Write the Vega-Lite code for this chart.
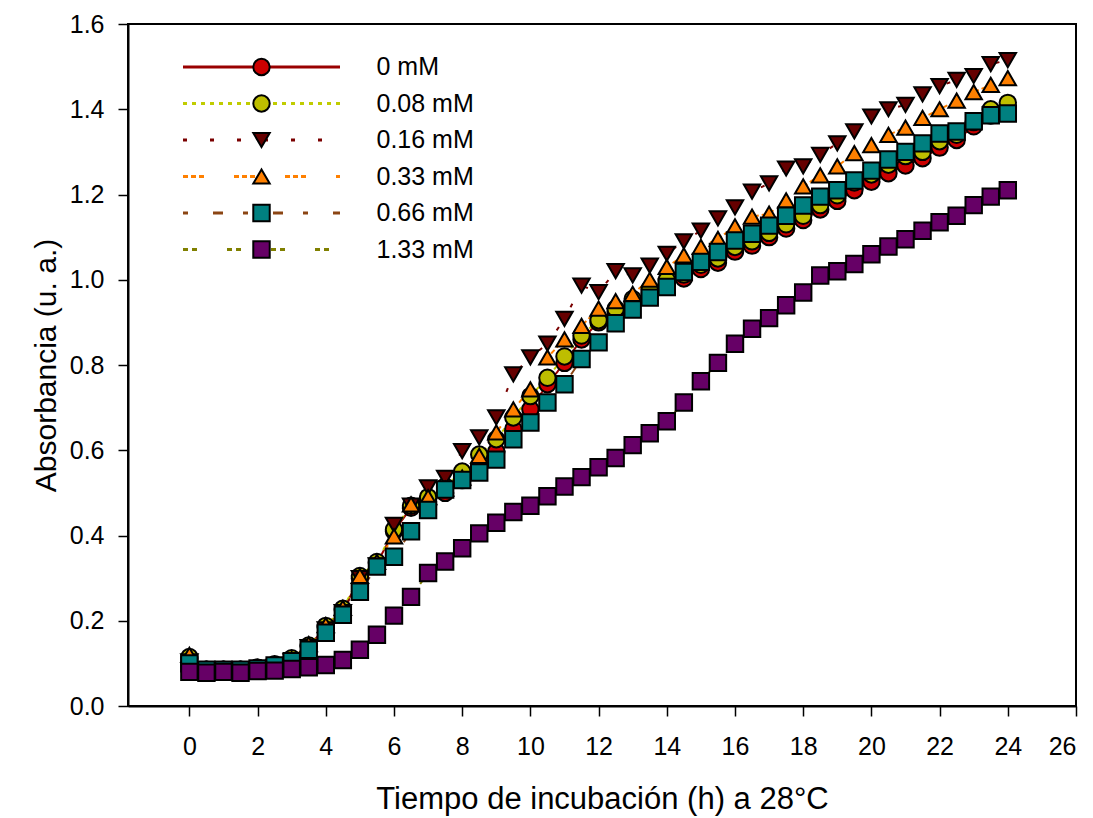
{
  "$schema": "https://vega.github.io/schema/vega-lite/v6.json",
  "width": 948,
  "height": 682,
  "autosize": {"type": "none"},
  "padding": {"left": 128, "top": 24, "right": 17, "bottom": 112},
  "background": "white",
  "config": {
    "font": "Liberation Sans",
    "view": {"stroke": "black", "strokeWidth": 2},
    "axis": {
      "grid": false,
      "domainColor": "black",
      "domainWidth": 2,
      "tickColor": "black",
      "tickWidth": 1.5,
      "tickSize": 10,
      "labelColor": "black",
      "titleColor": "black",
      "labelFont": "Liberation Sans",
      "titleFont": "Liberation Sans",
      "labelFontSize": 25,
      "titleFontWeight": "normal"
    }
  },
  "data": {
    "values": [
      {"s":"0 mM","t":0,"a":0.11},{"s":"0 mM","t":0.5,"a":0.085},{"s":"0 mM","t":1,"a":0.085},{"s":"0 mM","t":1.5,"a":0.085},{"s":"0 mM","t":2,"a":0.09},{"s":"0 mM","t":2.5,"a":0.095},{"s":"0 mM","t":3,"a":0.11},{"s":"0 mM","t":3.5,"a":0.14},{"s":"0 mM","t":4,"a":0.185},{"s":"0 mM","t":4.5,"a":0.225},{"s":"0 mM","t":5,"a":0.3},{"s":"0 mM","t":5.5,"a":0.335},{"s":"0 mM","t":6,"a":0.41},{"s":"0 mM","t":6.5,"a":0.465},{"s":"0 mM","t":7,"a":0.485},{"s":"0 mM","t":7.5,"a":0.5},{"s":"0 mM","t":8,"a":0.53},{"s":"0 mM","t":8.5,"a":0.56},{"s":"0 mM","t":9,"a":0.597},{"s":"0 mM","t":9.5,"a":0.65},{"s":"0 mM","t":10,"a":0.696},{"s":"0 mM","t":10.5,"a":0.755},{"s":"0 mM","t":11,"a":0.805},{"s":"0 mM","t":11.5,"a":0.86},{"s":"0 mM","t":12,"a":0.9},{"s":"0 mM","t":12.5,"a":0.925},{"s":"0 mM","t":13,"a":0.948},{"s":"0 mM","t":13.5,"a":0.968},{"s":"0 mM","t":14,"a":0.99},{"s":"0 mM","t":14.5,"a":1.003},{"s":"0 mM","t":15,"a":1.025},{"s":"0 mM","t":15.5,"a":1.04},{"s":"0 mM","t":16,"a":1.066},{"s":"0 mM","t":16.5,"a":1.08},{"s":"0 mM","t":17,"a":1.1},{"s":"0 mM","t":17.5,"a":1.12},{"s":"0 mM","t":18,"a":1.14},{"s":"0 mM","t":18.5,"a":1.165},{"s":"0 mM","t":19,"a":1.185},{"s":"0 mM","t":19.5,"a":1.21},{"s":"0 mM","t":20,"a":1.23},{"s":"0 mM","t":20.5,"a":1.25},{"s":"0 mM","t":21,"a":1.268},{"s":"0 mM","t":21.5,"a":1.285},{"s":"0 mM","t":22,"a":1.31},{"s":"0 mM","t":22.5,"a":1.328},{"s":"0 mM","t":23,"a":1.36},{"s":"0 mM","t":23.5,"a":1.385},{"s":"0 mM","t":24,"a":1.4},
      {"s":"0.08 mM","t":0,"a":0.115},{"s":"0.08 mM","t":0.5,"a":0.085},{"s":"0.08 mM","t":1,"a":0.085},{"s":"0.08 mM","t":1.5,"a":0.085},{"s":"0.08 mM","t":2,"a":0.09},{"s":"0.08 mM","t":2.5,"a":0.098},{"s":"0.08 mM","t":3,"a":0.112},{"s":"0.08 mM","t":3.5,"a":0.142},{"s":"0.08 mM","t":4,"a":0.188},{"s":"0.08 mM","t":4.5,"a":0.228},{"s":"0.08 mM","t":5,"a":0.305},{"s":"0.08 mM","t":5.5,"a":0.338},{"s":"0.08 mM","t":6,"a":0.414},{"s":"0.08 mM","t":6.5,"a":0.47},{"s":"0.08 mM","t":7,"a":0.49},{"s":"0.08 mM","t":7.5,"a":0.515},{"s":"0.08 mM","t":8,"a":0.55},{"s":"0.08 mM","t":8.5,"a":0.59},{"s":"0.08 mM","t":9,"a":0.626},{"s":"0.08 mM","t":9.5,"a":0.677},{"s":"0.08 mM","t":10,"a":0.727},{"s":"0.08 mM","t":10.5,"a":0.77},{"s":"0.08 mM","t":11,"a":0.82},{"s":"0.08 mM","t":11.5,"a":0.869},{"s":"0.08 mM","t":12,"a":0.905},{"s":"0.08 mM","t":12.5,"a":0.932},{"s":"0.08 mM","t":13,"a":0.955},{"s":"0.08 mM","t":13.5,"a":0.978},{"s":"0.08 mM","t":14,"a":1.0},{"s":"0.08 mM","t":14.5,"a":1.012},{"s":"0.08 mM","t":15,"a":1.035},{"s":"0.08 mM","t":15.5,"a":1.05},{"s":"0.08 mM","t":16,"a":1.077},{"s":"0.08 mM","t":16.5,"a":1.09},{"s":"0.08 mM","t":17,"a":1.11},{"s":"0.08 mM","t":17.5,"a":1.13},{"s":"0.08 mM","t":18,"a":1.15},{"s":"0.08 mM","t":18.5,"a":1.175},{"s":"0.08 mM","t":19,"a":1.198},{"s":"0.08 mM","t":19.5,"a":1.228},{"s":"0.08 mM","t":20,"a":1.247},{"s":"0.08 mM","t":20.5,"a":1.27},{"s":"0.08 mM","t":21,"a":1.29},{"s":"0.08 mM","t":21.5,"a":1.3},{"s":"0.08 mM","t":22,"a":1.325},{"s":"0.08 mM","t":22.5,"a":1.34},{"s":"0.08 mM","t":23,"a":1.37},{"s":"0.08 mM","t":23.5,"a":1.4},{"s":"0.08 mM","t":24,"a":1.415},
      {"s":"0.16 mM","t":0,"a":0.105},{"s":"0.16 mM","t":0.5,"a":0.078},{"s":"0.16 mM","t":1,"a":0.08},{"s":"0.16 mM","t":1.5,"a":0.08},{"s":"0.16 mM","t":2,"a":0.085},{"s":"0.16 mM","t":2.5,"a":0.092},{"s":"0.16 mM","t":3,"a":0.105},{"s":"0.16 mM","t":3.5,"a":0.138},{"s":"0.16 mM","t":4,"a":0.18},{"s":"0.16 mM","t":4.5,"a":0.22},{"s":"0.16 mM","t":5,"a":0.3},{"s":"0.16 mM","t":5.5,"a":0.33},{"s":"0.16 mM","t":6,"a":0.425},{"s":"0.16 mM","t":6.5,"a":0.47},{"s":"0.16 mM","t":7,"a":0.513},{"s":"0.16 mM","t":7.5,"a":0.535},{"s":"0.16 mM","t":8,"a":0.598},{"s":"0.16 mM","t":8.5,"a":0.63},{"s":"0.16 mM","t":9,"a":0.677},{"s":"0.16 mM","t":9.5,"a":0.778},{"s":"0.16 mM","t":10,"a":0.818},{"s":"0.16 mM","t":10.5,"a":0.85},{"s":"0.16 mM","t":11,"a":0.908},{"s":"0.16 mM","t":11.5,"a":0.986},{"s":"0.16 mM","t":12,"a":0.971},{"s":"0.16 mM","t":12.5,"a":1.02},{"s":"0.16 mM","t":13,"a":1.01},{"s":"0.16 mM","t":13.5,"a":1.033},{"s":"0.16 mM","t":14,"a":1.061},{"s":"0.16 mM","t":14.5,"a":1.09},{"s":"0.16 mM","t":15,"a":1.115},{"s":"0.16 mM","t":15.5,"a":1.144},{"s":"0.16 mM","t":16,"a":1.17},{"s":"0.16 mM","t":16.5,"a":1.207},{"s":"0.16 mM","t":17,"a":1.226},{"s":"0.16 mM","t":17.5,"a":1.261},{"s":"0.16 mM","t":18,"a":1.266},{"s":"0.16 mM","t":18.5,"a":1.293},{"s":"0.16 mM","t":19,"a":1.32},{"s":"0.16 mM","t":19.5,"a":1.348},{"s":"0.16 mM","t":20,"a":1.383},{"s":"0.16 mM","t":20.5,"a":1.4},{"s":"0.16 mM","t":21,"a":1.41},{"s":"0.16 mM","t":21.5,"a":1.435},{"s":"0.16 mM","t":22,"a":1.454},{"s":"0.16 mM","t":22.5,"a":1.469},{"s":"0.16 mM","t":23,"a":1.478},{"s":"0.16 mM","t":23.5,"a":1.506},{"s":"0.16 mM","t":24,"a":1.515},
      {"s":"0.33 mM","t":0,"a":0.12},{"s":"0.33 mM","t":0.5,"a":0.085},{"s":"0.33 mM","t":1,"a":0.085},{"s":"0.33 mM","t":1.5,"a":0.085},{"s":"0.33 mM","t":2,"a":0.09},{"s":"0.33 mM","t":2.5,"a":0.097},{"s":"0.33 mM","t":3,"a":0.11},{"s":"0.33 mM","t":3.5,"a":0.145},{"s":"0.33 mM","t":4,"a":0.19},{"s":"0.33 mM","t":4.5,"a":0.23},{"s":"0.33 mM","t":5,"a":0.305},{"s":"0.33 mM","t":5.5,"a":0.338},{"s":"0.33 mM","t":6,"a":0.398},{"s":"0.33 mM","t":6.5,"a":0.473},{"s":"0.33 mM","t":7,"a":0.49},{"s":"0.33 mM","t":7.5,"a":0.51},{"s":"0.33 mM","t":8,"a":0.536},{"s":"0.33 mM","t":8.5,"a":0.587},{"s":"0.33 mM","t":9,"a":0.642},{"s":"0.33 mM","t":9.5,"a":0.696},{"s":"0.33 mM","t":10,"a":0.743},{"s":"0.33 mM","t":10.5,"a":0.818},{"s":"0.33 mM","t":11,"a":0.86},{"s":"0.33 mM","t":11.5,"a":0.892},{"s":"0.33 mM","t":12,"a":0.932},{"s":"0.33 mM","t":12.5,"a":0.95},{"s":"0.33 mM","t":13,"a":0.967},{"s":"0.33 mM","t":13.5,"a":1.0},{"s":"0.33 mM","t":14,"a":1.03},{"s":"0.33 mM","t":14.5,"a":1.057},{"s":"0.33 mM","t":15,"a":1.077},{"s":"0.33 mM","t":15.5,"a":1.096},{"s":"0.33 mM","t":16,"a":1.125},{"s":"0.33 mM","t":16.5,"a":1.148},{"s":"0.33 mM","t":17,"a":1.155},{"s":"0.33 mM","t":17.5,"a":1.186},{"s":"0.33 mM","t":18,"a":1.219},{"s":"0.33 mM","t":18.5,"a":1.245},{"s":"0.33 mM","t":19,"a":1.266},{"s":"0.33 mM","t":19.5,"a":1.297},{"s":"0.33 mM","t":20,"a":1.316},{"s":"0.33 mM","t":20.5,"a":1.34},{"s":"0.33 mM","t":21,"a":1.357},{"s":"0.33 mM","t":21.5,"a":1.38},{"s":"0.33 mM","t":22,"a":1.4},{"s":"0.33 mM","t":22.5,"a":1.42},{"s":"0.33 mM","t":23,"a":1.44},{"s":"0.33 mM","t":23.5,"a":1.457},{"s":"0.33 mM","t":24,"a":1.473},
      {"s":"0.66 mM","t":0,"a":0.1},{"s":"0.66 mM","t":0.5,"a":0.085},{"s":"0.66 mM","t":1,"a":0.085},{"s":"0.66 mM","t":1.5,"a":0.085},{"s":"0.66 mM","t":2,"a":0.088},{"s":"0.66 mM","t":2.5,"a":0.095},{"s":"0.66 mM","t":3,"a":0.105},{"s":"0.66 mM","t":3.5,"a":0.132},{"s":"0.66 mM","t":4,"a":0.172},{"s":"0.66 mM","t":4.5,"a":0.214},{"s":"0.66 mM","t":5,"a":0.268},{"s":"0.66 mM","t":5.5,"a":0.327},{"s":"0.66 mM","t":6,"a":0.35},{"s":"0.66 mM","t":6.5,"a":0.41},{"s":"0.66 mM","t":7,"a":0.46},{"s":"0.66 mM","t":7.5,"a":0.508},{"s":"0.66 mM","t":8,"a":0.53},{"s":"0.66 mM","t":8.5,"a":0.548},{"s":"0.66 mM","t":9,"a":0.578},{"s":"0.66 mM","t":9.5,"a":0.626},{"s":"0.66 mM","t":10,"a":0.665},{"s":"0.66 mM","t":10.5,"a":0.712},{"s":"0.66 mM","t":11,"a":0.755},{"s":"0.66 mM","t":11.5,"a":0.814},{"s":"0.66 mM","t":12,"a":0.853},{"s":"0.66 mM","t":12.5,"a":0.898},{"s":"0.66 mM","t":13,"a":0.93},{"s":"0.66 mM","t":13.5,"a":0.958},{"s":"0.66 mM","t":14,"a":0.983},{"s":"0.66 mM","t":14.5,"a":1.018},{"s":"0.66 mM","t":15,"a":1.042},{"s":"0.66 mM","t":15.5,"a":1.065},{"s":"0.66 mM","t":16,"a":1.092},{"s":"0.66 mM","t":16.5,"a":1.108},{"s":"0.66 mM","t":17,"a":1.127},{"s":"0.66 mM","t":17.5,"a":1.15},{"s":"0.66 mM","t":18,"a":1.174},{"s":"0.66 mM","t":18.5,"a":1.195},{"s":"0.66 mM","t":19,"a":1.21},{"s":"0.66 mM","t":19.5,"a":1.233},{"s":"0.66 mM","t":20,"a":1.256},{"s":"0.66 mM","t":20.5,"a":1.282},{"s":"0.66 mM","t":21,"a":1.3},{"s":"0.66 mM","t":21.5,"a":1.32},{"s":"0.66 mM","t":22,"a":1.343},{"s":"0.66 mM","t":22.5,"a":1.348},{"s":"0.66 mM","t":23,"a":1.372},{"s":"0.66 mM","t":23.5,"a":1.386},{"s":"0.66 mM","t":24,"a":1.39},
      {"s":"1.33 mM","t":0,"a":0.08},{"s":"1.33 mM","t":0.5,"a":0.078},{"s":"1.33 mM","t":1,"a":0.08},{"s":"1.33 mM","t":1.5,"a":0.078},{"s":"1.33 mM","t":2,"a":0.082},{"s":"1.33 mM","t":2.5,"a":0.083},{"s":"1.33 mM","t":3,"a":0.087},{"s":"1.33 mM","t":3.5,"a":0.091},{"s":"1.33 mM","t":4,"a":0.096},{"s":"1.33 mM","t":4.5,"a":0.108},{"s":"1.33 mM","t":5,"a":0.132},{"s":"1.33 mM","t":5.5,"a":0.167},{"s":"1.33 mM","t":6,"a":0.212},{"s":"1.33 mM","t":6.5,"a":0.256},{"s":"1.33 mM","t":7,"a":0.312},{"s":"1.33 mM","t":7.5,"a":0.339},{"s":"1.33 mM","t":8,"a":0.37},{"s":"1.33 mM","t":8.5,"a":0.405},{"s":"1.33 mM","t":9,"a":0.43},{"s":"1.33 mM","t":9.5,"a":0.455},{"s":"1.33 mM","t":10,"a":0.47},{"s":"1.33 mM","t":10.5,"a":0.492},{"s":"1.33 mM","t":11,"a":0.515},{"s":"1.33 mM","t":11.5,"a":0.537},{"s":"1.33 mM","t":12,"a":0.56},{"s":"1.33 mM","t":12.5,"a":0.582},{"s":"1.33 mM","t":13,"a":0.612},{"s":"1.33 mM","t":13.5,"a":0.64},{"s":"1.33 mM","t":14,"a":0.668},{"s":"1.33 mM","t":14.5,"a":0.712},{"s":"1.33 mM","t":15,"a":0.762},{"s":"1.33 mM","t":15.5,"a":0.805},{"s":"1.33 mM","t":16,"a":0.85},{"s":"1.33 mM","t":16.5,"a":0.885},{"s":"1.33 mM","t":17,"a":0.91},{"s":"1.33 mM","t":17.5,"a":0.94},{"s":"1.33 mM","t":18,"a":0.97},{"s":"1.33 mM","t":18.5,"a":1.01},{"s":"1.33 mM","t":19,"a":1.02},{"s":"1.33 mM","t":19.5,"a":1.037},{"s":"1.33 mM","t":20,"a":1.06},{"s":"1.33 mM","t":20.5,"a":1.078},{"s":"1.33 mM","t":21,"a":1.095},{"s":"1.33 mM","t":21.5,"a":1.115},{"s":"1.33 mM","t":22,"a":1.135},{"s":"1.33 mM","t":22.5,"a":1.15},{"s":"1.33 mM","t":23,"a":1.175},{"s":"1.33 mM","t":23.5,"a":1.195},{"s":"1.33 mM","t":24,"a":1.21}
    ]
  },
  "encoding": {
    "x": {
      "field": "t",
      "type": "quantitative",
      "scale": {"domain": [-1.8, 26], "nice": false, "zero": false},
      "axis": {
        "title": "Tiempo de incubación (h) a 28°C",
        "titleFontSize": 31,
        "titlePadding": 25,
        "labelPadding": 18,
        "labelFontSize": 25,
        "values": [0, 2, 4, 6, 8, 10, 12, 14, 16, 18, 20, 22, 24, 26],
        "format": "d"
      }
    },
    "y": {
      "field": "a",
      "type": "quantitative",
      "scale": {"domain": [0, 1.6], "nice": false},
      "axis": {
        "title": "Absorbancia (u. a.)",
        "titleFontSize": 30,
        "titlePadding": 8,
        "labelPadding": 14,
        "labelFontSize": 25,
        "values": [0, 0.2, 0.4, 0.6, 0.8, 1.0, 1.2, 1.4, 1.6],
        "format": ".1f"
      }
    }
  },
  "layer": [
    {
      "mark": {"type": "line", "strokeWidth": 2},
      "encoding": {
        "stroke": {
          "field": "s",
          "type": "nominal",
          "scale": {
            "domain": ["0 mM", "0.08 mM", "0.16 mM", "0.33 mM", "0.66 mM", "1.33 mM"],
            "range": ["#990000", "#c0cc00", "#7a0000", "#ff8000", "#8b4513", "#808000"]
          },
          "legend": {
            "title": null,
            "orient": "none",
            "legendX": 53.5,
            "legendY": 31,
            "padding": 0,
            "symbolType": "stroke",
            "symbolSize": 24649,
            "symbolStrokeWidth": 3,
            "clipHeight": 24,
            "rowPadding": 11.5,
            "labelOffset": 35,
            "labelFontSize": 25,
            "labelFont": "Liberation Sans",
            "labelColor": "black"
          }
        },
        "strokeDash": {
          "field": "s",
          "type": "nominal",
          "scale": {
            "domain": ["0 mM", "0.08 mM", "0.16 mM", "0.33 mM", "0.66 mM", "1.33 mM"],
            "range": [[1, 0], [4, 5], [4, 23], [5, 3, 5, 3, 5, 30], [5, 25, 10, 20], [5, 4, 5, 30]]
          },
          "legend": {
            "title": null,
            "orient": "none",
            "legendX": 53.5,
            "legendY": 31,
            "padding": 0,
            "symbolType": "stroke",
            "symbolSize": 24649,
            "symbolStrokeWidth": 3,
            "clipHeight": 24,
            "rowPadding": 11.5,
            "labelOffset": 35,
            "labelFontSize": 25,
            "labelFont": "Liberation Sans",
            "labelColor": "black"
          }
        }
      }
    },
    {
      "mark": {"type": "point", "filled": true, "size": 270, "stroke": "black", "strokeWidth": 2, "opacity": 1},
      "encoding": {
        "fill": {
          "field": "s",
          "type": "nominal",
          "scale": {"range": ["#cc0000", "#bebe00", "#660000", "#ff8000", "#008080", "#660066"]},
          "legend": {
            "title": null,
            "orient": "none",
            "legendX": 121,
            "legendY": 31,
            "padding": 0,
            "symbolSize": 270,
            "symbolStrokeColor": "black",
            "symbolStrokeWidth": 2,
            "symbolOpacity": 1,
            "clipHeight": 24,
            "rowPadding": 11.5,
            "labelFontSize": 25,
            "labelOpacity": 0,
            "encode": {"symbols": {"update": {"stroke": {"value": "black"}, "strokeWidth": {"value": 2}, "opacity": {"value": 1}}}}
          }
        },
        "shape": {
          "field": "s",
          "type": "nominal",
          "scale": {"range": ["circle", "circle", "triangle-down", "triangle-up", "square", "square"]},
          "legend": {
            "title": null,
            "orient": "none",
            "legendX": 121,
            "legendY": 31,
            "padding": 0,
            "symbolSize": 270,
            "symbolStrokeColor": "black",
            "symbolStrokeWidth": 2,
            "symbolOpacity": 1,
            "clipHeight": 24,
            "rowPadding": 11.5,
            "labelFontSize": 25,
            "labelOpacity": 0,
            "encode": {"symbols": {"update": {"stroke": {"value": "black"}, "strokeWidth": {"value": 2}, "opacity": {"value": 1}}}}
          }
        }
      }
    }
  ]
}
